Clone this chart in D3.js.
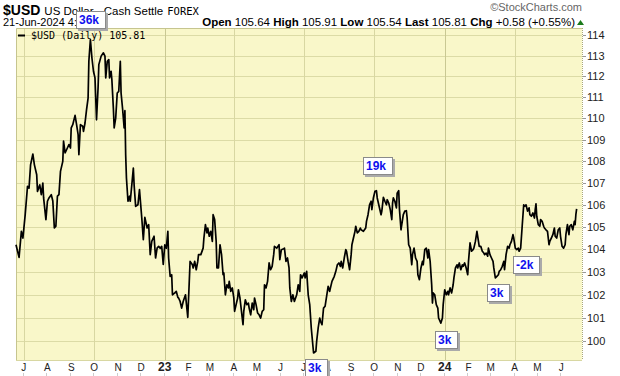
<!DOCTYPE html>
<html>
<head>
<meta charset="utf-8">
<script src="https://cdn.jsdelivr.net/npm/d3@7"></script>
<style>
body { margin: 0; background: #fff; }
svg text { font-family: "Liberation Sans", Arial, sans-serif; }
</style>
</head>
<body>
<div id="chart"></div>
<script>

// daily closes of $USD
var dates = [
  "2022-06-21","2022-06-25","2022-06-28","2022-06-30","2022-07-03","2022-07-06","2022-07-08","2022-07-10","2022-07-13","2022-07-15","2022-07-18","2022-07-19","2022-07-22","2022-07-24","2022-07-26","2022-07-27","2022-07-30",
  "2022-08-01","2022-08-03","2022-08-06","2022-08-08","2022-08-10","2022-08-12","2022-08-14","2022-08-16","2022-08-18","2022-08-21","2022-08-22","2022-08-24","2022-08-27","2022-08-29","2022-08-31",
  "2022-09-01","2022-09-03","2022-09-06","2022-09-08","2022-09-10","2022-09-11","2022-09-13","2022-09-16","2022-09-17","2022-09-19","2022-09-21","2022-09-23","2022-09-24","2022-09-26","2022-09-28","2022-09-30",
  "2022-10-02","2022-10-04","2022-10-06","2022-10-07","2022-10-10","2022-10-13","2022-10-15","2022-10-16","2022-10-18","2022-10-20","2022-10-21","2022-10-23","2022-10-24","2022-10-26","2022-10-27","2022-10-29","2022-10-31",
  "2022-11-02","2022-11-04","2022-11-05","2022-11-07","2022-11-09","2022-11-10","2022-11-11","2022-11-12","2022-11-14","2022-11-16","2022-11-17","2022-11-19","2022-11-21","2022-11-22","2022-11-24","2022-11-27","2022-11-29",
  "2022-12-02","2022-12-04","2022-12-06","2022-12-09","2022-12-11","2022-12-13","2022-12-15","2022-12-18","2022-12-20","2022-12-22","2022-12-24","2022-12-26","2022-12-28","2022-12-30",
  "2023-01-01","2023-01-03","2023-01-05","2023-01-06","2023-01-08","2023-01-10","2023-01-11","2023-01-14","2023-01-16","2023-01-18","2023-01-19","2023-01-21","2023-01-23","2023-01-25","2023-01-28","2023-01-31",
  "2023-02-03","2023-02-06","2023-02-07","2023-02-09","2023-02-11","2023-02-13","2023-02-14","2023-02-17","2023-02-20","2023-02-21","2023-02-23","2023-02-25","2023-02-26","2023-02-28",
  "2023-03-02","2023-03-04","2023-03-05","2023-03-07","2023-03-09","2023-03-10","2023-03-12","2023-03-14","2023-03-16","2023-03-18","2023-03-19","2023-03-21","2023-03-23","2023-03-25","2023-03-26","2023-03-28","2023-03-30",
  "2023-04-01","2023-04-02","2023-04-04","2023-04-06","2023-04-07","2023-04-09","2023-04-11","2023-04-13","2023-04-14","2023-04-16","2023-04-18","2023-04-20","2023-04-21","2023-04-23","2023-04-25","2023-04-27","2023-04-28","2023-04-30",
  "2023-05-02","2023-05-04","2023-05-06","2023-05-08","2023-05-10","2023-05-11","2023-05-13","2023-05-15","2023-05-17","2023-05-19","2023-05-21","2023-05-23","2023-05-24","2023-05-27","2023-05-30","2023-05-31",
  "2023-06-02","2023-06-05","2023-06-06","2023-06-08","2023-06-10","2023-06-12","2023-06-13","2023-06-15","2023-06-17","2023-06-19","2023-06-22","2023-06-24","2023-06-26","2023-06-27","2023-06-29",
  "2023-07-02","2023-07-03","2023-07-05","2023-07-07","2023-07-09","2023-07-11","2023-07-13","2023-07-14","2023-07-17","2023-07-18","2023-07-20","2023-07-22","2023-07-23","2023-07-25","2023-07-27","2023-07-29","2023-07-30",
  "2023-08-02","2023-08-04","2023-08-05","2023-08-07","2023-08-10","2023-08-12","2023-08-14","2023-08-16","2023-08-18","2023-08-19","2023-08-21","2023-08-23","2023-08-25","2023-08-26","2023-08-28","2023-08-30",
  "2023-09-01","2023-09-02","2023-09-04","2023-09-06","2023-09-07","2023-09-09","2023-09-11","2023-09-13","2023-09-14","2023-09-17","2023-09-20","2023-09-21","2023-09-23","2023-09-25","2023-09-27","2023-09-28","2023-09-30",
  "2023-10-02","2023-10-04","2023-10-05","2023-10-07","2023-10-10","2023-10-11","2023-10-13","2023-10-15","2023-10-17","2023-10-18","2023-10-20","2023-10-22","2023-10-24","2023-10-25","2023-10-26","2023-10-28","2023-10-30","2023-10-31",
  "2023-11-02","2023-11-03","2023-11-05","2023-11-06","2023-11-08","2023-11-10","2023-11-12","2023-11-13","2023-11-15","2023-11-17","2023-11-19","2023-11-20","2023-11-22","2023-11-24","2023-11-26","2023-11-27","2023-11-29",
  "2023-12-01","2023-12-03","2023-12-04","2023-12-06","2023-12-08","2023-12-10","2023-12-11","2023-12-13","2023-12-15","2023-12-16","2023-12-17","2023-12-19","2023-12-21","2023-12-23","2023-12-24","2023-12-27","2023-12-29","2023-12-30",
  "2024-01-01","2024-01-03","2024-01-05","2024-01-06","2024-01-08","2024-01-10","2024-01-12","2024-01-13","2024-01-15","2024-01-17","2024-01-18","2024-01-20","2024-01-22","2024-01-24","2024-01-25","2024-01-27","2024-01-29","2024-01-31",
  "2024-02-01","2024-02-03","2024-02-05","2024-02-07","2024-02-08","2024-02-10","2024-02-12","2024-02-14","2024-02-15","2024-02-17","2024-02-19","2024-02-21","2024-02-22","2024-02-24","2024-02-26","2024-02-27","2024-02-29",
  "2024-03-02","2024-03-04","2024-03-05","2024-03-07","2024-03-09","2024-03-11","2024-03-12","2024-03-14","2024-03-16","2024-03-18","2024-03-19","2024-03-21","2024-03-23","2024-03-25","2024-03-26","2024-03-28","2024-03-30","2024-03-31",
  "2024-04-02","2024-04-04","2024-04-06","2024-04-07","2024-04-09","2024-04-11","2024-04-13","2024-04-14","2024-04-16","2024-04-18","2024-04-20","2024-04-21","2024-04-23","2024-04-25","2024-04-27","2024-04-28","2024-04-29","2024-04-30",
  "2024-05-02","2024-05-04","2024-05-05","2024-05-07","2024-05-09","2024-05-10","2024-05-12","2024-05-14","2024-05-16","2024-05-17","2024-05-19","2024-05-21","2024-05-23","2024-05-24","2024-05-26","2024-05-28","2024-05-30","2024-05-31",
  "2024-06-02","2024-06-04","2024-06-06","2024-06-07","2024-06-09","2024-06-11","2024-06-12","2024-06-14","2024-06-16","2024-06-18","2024-06-19","2024-06-20","2024-06-21"
];

var closes = [
  104.20,103.64,104.80,104.50,105.55,106.84,106.76,107.83,108.33,107.83,107.37,106.61,106.91,106.46,106.99,106.31,105.33,
  106.16,106.31,106.46,106.17,104.95,105.03,106.39,106.46,107.53,107.99,108.93,108.38,108.61,108.77,108.61,
  109.55,109.70,110.14,109.70,109.23,108.30,109.70,109.63,109.39,109.78,110.41,110.96,112.72,113.77,112.88,112.24,
  111.92,109.93,111.44,112.56,112.97,113.13,112.97,111.92,112.72,112.80,111.92,112.24,111.84,110.44,109.55,110.01,111.20,
  111.28,112.72,111.20,110.44,109.55,110.36,108.30,107.22,106.16,106.39,106.16,106.91,107.68,106.91,105.93,106.00,106.69,
  105.40,104.43,105.43,104.95,105.10,103.76,104.35,104.58,103.61,104.05,104.13,104.04,104.13,103.33,
  104.20,104.05,104.80,103.61,102.80,102.87,101.99,102.07,102.14,101.88,101.85,101.70,101.41,101.70,101.99,101.01,
  103.46,103.31,103.17,103.46,103.09,103.46,103.76,103.76,104.05,104.50,105.10,104.73,104.95,104.58,
  104.80,104.35,105.55,105.33,104.35,103.17,103.17,104.20,103.76,102.87,102.95,101.99,102.43,102.29,102.58,102.14,102.29,
  101.85,101.27,101.56,101.85,102.21,101.85,101.27,100.69,101.27,101.77,101.56,101.63,101.41,101.12,101.63,101.34,101.85,101.56,
  101.20,101.12,100.98,101.27,101.34,102.43,102.29,102.58,103.39,103.09,103.24,103.76,104.13,104.05,104.20,103.54,
  103.98,104.02,104.05,103.46,103.61,103.17,102.29,101.70,101.99,101.70,101.99,102.43,102.14,102.87,102.73,
  102.95,102.73,103.02,101.99,101.56,100.55,99.83,99.48,99.55,99.97,100.55,100.98,100.84,100.69,101.41,101.49,101.70,
  102.36,102.14,102.29,102.58,102.80,103.02,103.31,103.39,103.24,103.46,103.17,103.61,103.98,103.91,103.46,103.09,
  103.76,104.20,104.50,104.80,105.03,104.73,104.80,104.95,104.87,104.80,104.95,105.25,105.55,106.00,106.16,105.78,106.31,
  106.61,106.64,106.31,106.00,105.55,105.71,106.34,106.16,106.00,106.23,106.08,105.78,105.33,106.08,106.31,106.16,105.86,106.53,
  106.64,105.78,104.87,105.10,105.55,105.71,105.73,105.40,104.20,104.05,103.31,103.76,104.05,103.61,103.46,102.87,102.65,
  103.17,103.46,103.31,103.98,104.05,103.61,103.98,103.46,102.43,101.63,102.07,101.99,101.56,101.41,100.98,100.76,100.98,101.56,
  102.21,101.99,102.14,101.99,102.29,102.07,102.43,102.73,103.17,103.31,103.17,103.39,103.09,103.31,103.24,103.39,103.17,102.87,
  103.46,104.28,103.91,103.98,104.05,104.35,104.80,104.35,104.13,104.13,103.91,103.83,103.76,103.83,103.69,104.05,103.76,
  103.61,103.46,103.17,102.73,102.80,102.87,103.02,103.09,103.24,103.46,103.09,103.76,104.13,104.05,104.20,104.35,104.65,104.50,
  104.05,103.98,104.05,103.91,104.05,105.03,106.00,105.93,106.00,105.71,105.86,105.55,105.48,105.63,105.40,105.78,106.04,105.48,
  105.10,105.03,105.33,105.25,105.03,104.95,104.87,104.80,104.20,104.35,104.50,104.65,104.95,104.58,104.50,104.87,104.95,104.58,
  104.13,104.05,104.20,104.65,105.10,104.65,105.03,105.10,104.87,105.25,105.10,105.55,105.81
];

var yTicks = [100,101,102,103,104,105,106,107,108,109,110,111,112,113,114];
var monthLabels = ["J","A","S","O","N","D","23","F","M","A","M","J","J","A","S","O","N","D","24","F","M","A","M","J"];

// annotation boxes: label, date and price level of the box's top left corner
var noteLabels = ["36k","19k","3k","3k","3k","-2k"];
var noteDates  = ["2022-09-07","2023-09-17","2023-07-03","2023-12-19","2024-02-25","2024-03-30"];
var noteLevels = [115.18,108.18,99.22,100.43,102.46,103.70];

var parse = d3.timeParse("%Y-%m-%d");
var data = dates.map(function(d, i) { return {date: parse(d), v: closes[i]}; });

var W = 620, H = 376;
var plot = {left: 16, right: 582, top: 28, bottom: 360};

var x = d3.scaleTime()
  .domain([parse("2022-06-21"), parse("2024-06-28")])
  .range([plot.left, plot.right]);

var y = d3.scaleLog()
  .domain([99.18, 114.34])
  .range([plot.bottom, plot.top]);

var svg = d3.select('#chart').append('svg')
  .attr('width', W)
  .attr('height', H);

// plot background
svg.append('rect')
  .attr('x', plot.left).attr('y', plot.top)
  .attr('width', plot.right - plot.left).attr('height', plot.bottom - plot.top)
  .attr('fill', '#f9f7c9');

// horizontal grid
svg.append('g').selectAll('line')
  .data(yTicks)
  .enter().append('line')
    .attr('x1', plot.left).attr('x2', plot.right)
    .attr('y1', function(d) { return Math.round(y(d)) + 0.5; })
    .attr('y2', function(d) { return Math.round(y(d)) + 0.5; })
    .attr('stroke', '#dcdba6');

// month ticks
var months = d3.timeMonth.range(parse("2022-07-01"), parse("2024-07-01"));

svg.append('g').selectAll('line')
  .data(months.filter(function(d) { return d.getMonth() % 3 == 0; }))
  .enter().append('line')
    .attr('x1', function(d) { return Math.round(x(d)) + 0.5; })
    .attr('x2', function(d) { return Math.round(x(d)) + 0.5; })
    .attr('y1', plot.top).attr('y2', plot.bottom)
    .attr('stroke', function(d) { return d.getMonth() == 0 ? '#c9c893' : '#d8d7a2'; });

// frame
svg.append('path')
  .attr('d', 'M' + (plot.left + 0.5) + ',' + plot.bottom + 'V' + (plot.top + 0.5) + 'H' + plot.right)
  .attr('fill', 'none')
  .attr('stroke', '#c6c58f');
svg.append('line')
  .attr('x1', plot.left).attr('x2', plot.right)
  .attr('y1', plot.bottom + 0.5).attr('y2', plot.bottom + 0.5)
  .attr('stroke', '#d8d7a2');
svg.append('line')
  .attr('x1', plot.right + 0.5).attr('x2', plot.right + 0.5)
  .attr('y1', plot.top).attr('y2', plot.bottom)
  .attr('stroke', '#a9a87a')
  .attr('stroke-dasharray', '1,1');

// right axis
var yAxis = svg.append('g');
yAxis.selectAll('line')
  .data(yTicks)
  .enter().append('line')
    .attr('x1', plot.right + 1).attr('x2', plot.right + 4)
    .attr('y1', function(d) { return Math.round(y(d)) + 0.5; })
    .attr('y2', function(d) { return Math.round(y(d)) + 0.5; })
    .attr('stroke', '#999');
yAxis.selectAll('text')
  .data(yTicks)
  .enter().append('text')
    .attr('x', plot.right + 5)
    .attr('y', function(d) { return y(d) + 4; })
    .attr('font-size', 11)
    .attr('fill', '#222')
    .text(function(d) { return d; });

// bottom axis
var xAxis = svg.append('g');
xAxis.selectAll('text')
  .data(months)
  .enter().append('text')
    .attr('x', function(d) { return x(d); })
    .attr('y', 371)
    .attr('text-anchor', 'middle')
    .attr('font-size', function(d, i) { return monthLabels[i].length > 1 ? 12 : 10; })
    .attr('font-weight', function(d, i) { return monthLabels[i].length > 1 ? 'bold' : 'normal'; })
    .attr('fill', '#222')
    .text(function(d, i) { return monthLabels[i]; });
xAxis.selectAll('line')
  .data(months)
  .enter().append('line')
    .attr('x1', function(d) { return Math.round(x(d)) - 0.5; })
    .attr('x2', function(d) { return Math.round(x(d)) - 0.5; })
    .attr('y1', 373).attr('y2', 376)
    .attr('stroke', '#ccc');

// price line
var line = d3.line()
  .x(function(d) { return x(d.date); })
  .y(function(d) { return y(d.v); });

svg.append('path')
  .datum(data)
  .attr('d', line)
  .attr('fill', 'none')
  .attr('stroke', '#000')
  .attr('stroke-width', 1.7)
  .attr('stroke-linejoin', 'round');

// legend
svg.append('line')
  .attr('x1', 18).attr('x2', 25)
  .attr('y1', 35.5).attr('y2', 35.5)
  .attr('stroke', '#000').attr('stroke-width', 2);
svg.append('text')
  .attr('x', 31).attr('y', 39)
  .attr('font-size', 10)
  .style('font-family', '"DejaVu Sans Mono", monospace')
  .attr('fill', '#000')
  .text('$USD (Daily) ' + closes[closes.length - 1].toFixed(2));

// header
var head = svg.append('g');
var hx = 3;
[['$USD', 14, 'bold', null], ['US Dollar - Cash Settle', 11.5, 'normal', null], ['FOREX', 10.5, 'normal', '"DejaVu Sans Mono", monospace']]
  .forEach(function(p) {
    var t = head.append('text')
      .attr('x', hx).attr('y', 15)
      .attr('font-size', p[1]).attr('font-weight', p[2])
      .text(p[0]);
    if (p[3]) t.style('font-family', p[3]);
    hx += t.node().getComputedTextLength() + 4;
  });
head.append('text')
  .attr('x', 3).attr('y', 26)
  .attr('font-size', 11)
  .text('21-Jun-2024 4:59pm');
head.append('text')
  .attr('x', 582).attr('y', 11)
  .attr('text-anchor', 'end')
  .attr('font-size', 11)
  .attr('fill', '#666')
  .text('\u00a9StockCharts.com');

var quote = head.append('text')
  .attr('x', 575).attr('y', 26)
  .attr('text-anchor', 'end')
  .attr('font-size', 11.5);
[['Open', ' 105.64 '], ['High', ' 105.91 '], ['Low', ' 105.54 '], ['Last', ' 105.81 '], ['Chg', ' +0.58 (+0.55%)']]
  .forEach(function(p) {
    quote.append('tspan').attr('font-weight', 'bold').text(p[0]);
    quote.append('tspan').text(p[1]);
  });
head.append('path')
  .attr('d', 'M577,25 L584,25 L580.5,20 Z')
  .attr('fill', '#1a7a1a');

// annotation boxes
var notes = svg.append('g').selectAll('g')
  .data(noteLabels)
  .enter().append('g')
    .attr('transform', function(d, i) {
      return 'translate(' + Math.round(x(parse(noteDates[i]))) + ',' + Math.round(y(noteLevels[i])) + ')';
    });

notes.each(function(d) {
  var g = d3.select(this);
  var shadow = g.append('rect').attr('x', 2).attr('y', 2).attr('height', 18).attr('fill', '#aaa');
  var box = g.append('rect').attr('x', 0.5).attr('y', 0.5).attr('height', 17)
    .attr('fill', '#fff').attr('stroke', '#8a8a8a');
  var t = g.append('text')
    .attr('x', 3).attr('y', 13)
    .attr('font-size', 12).attr('font-weight', 'bold')
    .attr('fill', '#1010ee')
    .text(d);
  var w = Math.round(t.node().getComputedTextLength()) + 10;
  shadow.attr('width', w);
  box.attr('width', w - 1);
});

</script>
</body>
</html>
